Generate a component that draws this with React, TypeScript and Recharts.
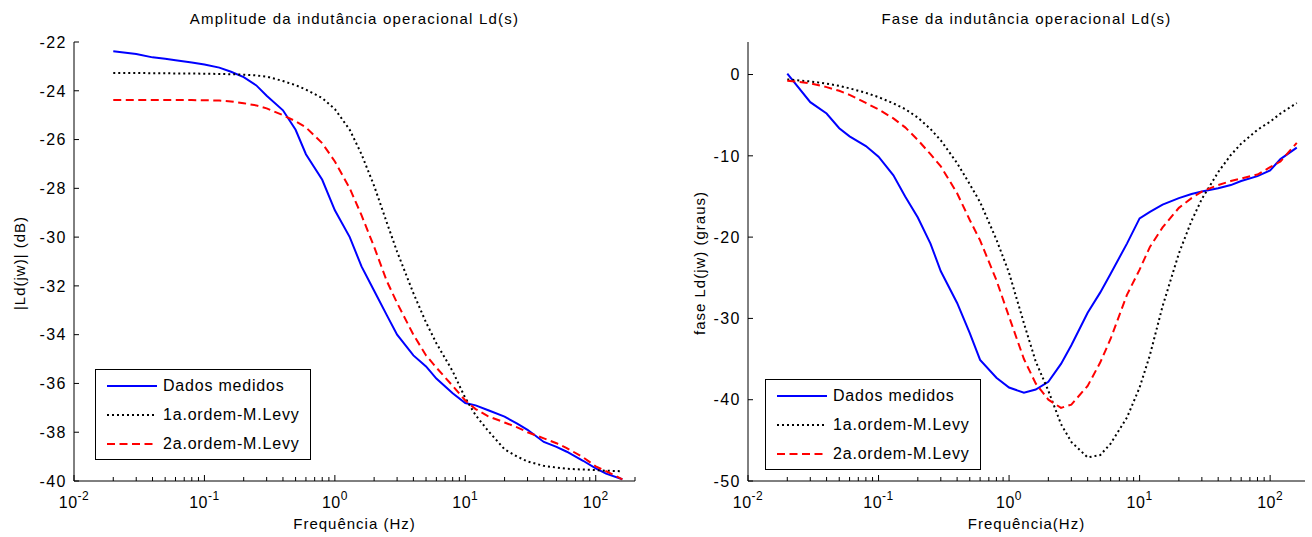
import { Line, LineChart, XAxis, YAxis } from "recharts";

// frequency grid shared by both panels (Hz)
const freqHz = [
  0.02, 0.03, 0.04, 0.05, 0.06, 0.08, 0.1, 0.13, 0.16, 0.2, 0.25, 0.3, 0.4, 0.5,
  0.6, 0.8, 1, 1.3, 1.6, 2, 2.5, 3, 4, 5, 6, 8, 10, 12, 15, 20, 25, 30, 40, 50,
  60, 80, 100, 120, 160,
];

// |Ld(jw)| in dB
const ampMeasured = [
  -22.38, -22.49, -22.63, -22.69, -22.75, -22.84, -22.92, -23.05, -23.22, -23.44,
  -23.78, -24.2, -24.8, -25.6, -26.6, -27.65, -28.9, -30.0, -31.2, -32.2, -33.2,
  -34.0, -34.85, -35.3, -35.8, -36.4, -36.8, -36.9, -37.1, -37.36, -37.65, -37.9,
  -38.4, -38.6, -38.8, -39.17, -39.48, -39.7, -39.93,
];
const ampFirstOrder = [
  -23.27, -23.27, -23.28, -23.28, -23.29, -23.29, -23.3, -23.31, -23.32, -23.34,
  -23.37, -23.42, -23.6, -23.77, -23.95, -24.3, -24.75, -25.6, -26.6, -27.9, -29.4,
  -30.6, -32.3, -33.5, -34.35, -35.5, -36.6, -37.3, -37.95, -38.7, -39.0, -39.2,
  -39.38, -39.45, -39.5, -39.53, -39.55, -39.58, -39.6,
];
const ampSecondOrder = [
  -24.38, -24.38, -24.38, -24.38, -24.38, -24.38, -24.39, -24.4, -24.44, -24.51,
  -24.6, -24.72, -25.0, -25.25, -25.5, -26.15, -26.9, -28.0, -29.1, -30.4, -31.8,
  -32.7, -34.0, -34.85, -35.35, -36.1, -36.7, -37.05, -37.35, -37.6, -37.8, -38.0,
  -38.25, -38.45, -38.65, -39.03, -39.4, -39.6, -39.93,
];

// phase of Ld(jw) in degrees
const phaseMeasured = [
  0.1, -3.4, -4.8, -6.6, -7.6, -8.8, -10.1, -12.4, -15.0, -17.6, -20.8, -24.2,
  -28.1, -31.8, -35.1, -37.3, -38.5, -39.15, -38.75, -37.8, -35.6, -33.3, -29.3,
  -26.8, -24.5, -20.8, -17.7, -16.9, -16.0, -15.2, -14.7, -14.4, -14.0, -13.6,
  -13.1, -12.5, -11.8, -10.4, -9.0,
];
const phaseFirstOrder = [
  -0.6, -0.85, -1.12, -1.4, -1.7, -2.25, -2.78, -3.55, -4.25, -5.3, -6.7, -8.1,
  -10.9, -13.5, -15.7, -20.3, -24.4, -30.6, -35.3, -38.9, -43.0, -45.2, -47.1,
  -46.8, -45.4, -42.2, -38.5, -34.5, -28.5, -22.0, -18.0, -15.3, -12.0, -9.9,
  -8.5, -6.8, -5.8, -4.8, -3.5,
];
const phaseSecondOrder = [
  -0.76, -1.08, -1.55, -2.0, -2.5, -3.5, -4.3, -5.4, -6.5, -8.05, -9.8, -11.3,
  -14.6, -17.9, -20.4, -25.3, -29.8, -35.0, -38.0, -40.0, -41.0, -40.6, -38.3,
  -35.4, -32.5, -27.1, -24.0, -21.2, -18.8, -16.4, -15.2, -14.4, -13.6, -13.1,
  -12.8, -12.3, -11.4, -10.7, -8.4,
];

const ampTicks = [-40, -38, -36, -34, -32, -30, -28, -26, -24, -22];
const phaseTicks = [-50, -40, -30, -20, -10, 0];
const decades = [0.01, 0.1, 1, 10, 100];
const seriesNames = ["Dados medidos", "1a.ordem-M.Levy", "2a.ordem-M.Levy"];

const FONT = '"Liberation Sans", Arial, Helvetica, sans-serif';
const BLUE = "#0000ff";
const RED = "#ff0000";
const DOTS = "2 3";
const DASHES = "8 4.5";

type Row = { f: number; medido: number; ordem1: number; ordem2: number };

function buildRows(a: number[], b: number[], c: number[]): Row[] {
  return freqHz.map((f, i) => ({ f, medido: a[i], ordem1: b[i], ordem2: c[i] }));
}

const ampRows = buildRows(ampMeasured, ampFirstOrder, ampSecondOrder);
const phaseRows = buildRows(phaseMeasured, phaseFirstOrder, phaseSecondOrder);

function logTicks(max: number) {
  const out: number[] = [];
  for (const d of decades)
    for (let k = 1; k <= 9; k++) {
      const v = +(k * d).toPrecision(3);
      if (v <= max) out.push(v);
    }
  return out;
}

const isMajor = (v: number) => decades.includes(v);

function BottomTick({ x, y, payload }: any) {
  const v = payload.value;
  const major = isMajor(v);
  return (
    <g>
      <line x1={x} x2={x} y1={y} y2={y - (major ? 6 : 4)} stroke="#000" />
      {major && (
        <text x={x} y={y + 27} textAnchor="middle" fontSize={16} fontFamily={FONT} fill="#000" letterSpacing={0.5}>
          10
          <tspan dy={-8} fontSize={12}>
            {Math.round(Math.log10(v))}
          </tspan>
        </text>
      )}
    </g>
  );
}

function TopTick({ x, y, payload }: any) {
  const len = isMajor(payload.value) ? 6 : 4;
  return <line x1={x} x2={x} y1={y} y2={y + len} stroke="#000" />;
}

function LeftTick({ x, y, payload }: any) {
  return (
    <g>
      <line x1={x} x2={x + 5} y1={y} y2={y} stroke="#000" />
      <text x={x - 7} y={y} dy="0.36em" textAnchor="end" fontSize={16} fontFamily={FONT} fill="#000" letterSpacing={1.5}>
        {payload.value}
      </text>
    </g>
  );
}

function RightTick({ x, y }: any) {
  return <line x1={x} x2={x - 5} y1={y} y2={y} stroke="#000" />;
}

function LegendBox({ left, top }: { left: number; top: number }) {
  const styles = [
    { stroke: BLUE, dash: undefined },
    { stroke: "#000", dash: DOTS },
    { stroke: RED, dash: DASHES },
  ];
  return (
    <div
      style={{
        position: "absolute",
        left,
        top,
        width: 214,
        height: 89,
        border: "1px solid #000",
        background: "#fff",
      }}
    >
      {seriesNames.map((name, i) => (
        <div key={name} style={{ position: "absolute", left: 0, top: 16 + i * 29 - 10, height: 20, width: 214 }}>
          <svg width={64} height={20} style={{ position: "absolute", left: 0, top: 0 }}>
            <line x1={11} x2={61} y1={10} y2={10} stroke={styles[i].stroke} strokeWidth={2} strokeDasharray={styles[i].dash} />
          </svg>
          <span
            style={{
              position: "absolute",
              left: 67,
              top: 0,
              lineHeight: "20px",
              fontSize: 16,
              letterSpacing: 0.8,
              fontFamily: FONT,
              whiteSpace: "nowrap",
            }}
          >
            {name}
          </span>
        </div>
      ))}
    </div>
  );
}

type PanelProps = {
  left: number;
  width: number;
  plotLeft: number;
  plotRight: number;
  rows: Row[];
  yDomain: [number, number];
  yTicks: number[];
  xMax: number;
  title: string;
  xLabel: string;
  yLabel: string;
  yLabelX: number;
  legendLeft: number;
  legendTop: number;
};

const Y_W = 50;
const textBase = { position: "absolute" as const, fontFamily: FONT, fontSize: 15, whiteSpace: "nowrap" as const, color: "#000" };

function Panel(p: PanelProps) {
  const cx = (p.plotLeft + p.plotRight) / 2;
  const xt = logTicks(p.xMax);
  return (
    <>
      <div style={{ position: "absolute", left: p.left, top: 0 }}>
        <LineChart
          width={p.width}
          height={537}
          data={p.rows}
          margin={{ top: 42, bottom: 0, left: p.plotLeft - p.left - Y_W, right: p.left + p.width - p.plotRight }}
        >
          <XAxis
            dataKey="f"
            type="number"
            scale="log"
            domain={[0.01, p.xMax]}
            allowDataOverflow
            ticks={xt}
            interval={0}
            tickSize={0}
            tickMargin={0}
            tickLine={false}
            axisLine={{ stroke: "#000" }}
            tick={<BottomTick />}
            height={56}
          />
          <XAxis
            xAxisId="top"
            orientation="top"
            dataKey="f"
            type="number"
            scale="log"
            domain={[0.01, p.xMax]}
            allowDataOverflow
            ticks={xt}
            interval={0}
            tickSize={0}
            tickMargin={0}
            tickLine={false}
            axisLine={{ stroke: "#000" }}
            tick={<TopTick />}
            height={0}
          />
          <YAxis
            type="number"
            domain={p.yDomain}
            allowDataOverflow
            ticks={p.yTicks}
            interval={0}
            tickSize={0}
            tickMargin={0}
            tickLine={false}
            axisLine={{ stroke: "#000" }}
            tick={<LeftTick />}
            width={Y_W}
          />
          <YAxis
            yAxisId="r"
            orientation="right"
            type="number"
            domain={p.yDomain}
            allowDataOverflow
            ticks={p.yTicks}
            interval={0}
            tickSize={0}
            tickMargin={0}
            tickLine={false}
            axisLine={{ stroke: "#000" }}
            tick={<RightTick />}
            width={0}
          />
          <Line type="linear" dataKey="medido" stroke={BLUE} strokeWidth={2} dot={false} isAnimationActive={false} />
          <Line type="linear" dataKey="ordem1" stroke="#000" strokeWidth={2} strokeDasharray={DOTS} dot={false} isAnimationActive={false} />
          <Line type="linear" dataKey="ordem2" stroke={RED} strokeWidth={2} strokeDasharray={DASHES} dot={false} isAnimationActive={false} />
        </LineChart>
      </div>
      <div style={{ ...textBase, left: cx, top: 18, transform: "translate(-50%, -50%)", letterSpacing: 1.2 }}>{p.title}</div>
      <div style={{ ...textBase, left: cx, top: 523, transform: "translate(-50%, -50%)", letterSpacing: 1 }}>{p.xLabel}</div>
      <div
        style={{ ...textBase, left: p.yLabelX, top: 263, transform: "translate(-50%, -50%) rotate(-90deg)", letterSpacing: 1 }}
      >
        {p.yLabel}
      </div>
      <LegendBox left={p.legendLeft} top={p.legendTop} />
    </>
  );
}

export default function App() {
  return (
    <div style={{ position: "absolute", left: 0, top: 0, width: 1312, height: 537, background: "#fff", overflow: "hidden" }}>
      <Panel
        left={0}
        width={660}
        plotLeft={74}
        plotRight={635}
        rows={ampRows}
        yDomain={[-40, -22]}
        yTicks={ampTicks}
        xMax={200}
        title="Amplitude da indutância operacional Ld(s)"
        xLabel="Frequência (Hz)"
        yLabel="|Ld(jw)| (dB)"
        yLabelX={19}
        legendLeft={95}
        legendTop={369}
      />
      <Panel
        left={660}
        width={652}
        plotLeft={748}
        plotRight={1305}
        rows={phaseRows}
        yDomain={[-50, 4]}
        yTicks={phaseTicks}
        xMax={185}
        title="Fase da indutância operacional Ld(s)"
        xLabel="Frequência(Hz)"
        yLabel="fase Ld(jw) (graus)"
        yLabelX={699}
        legendLeft={765}
        legendTop={379}
      />
    </div>
  );
}
